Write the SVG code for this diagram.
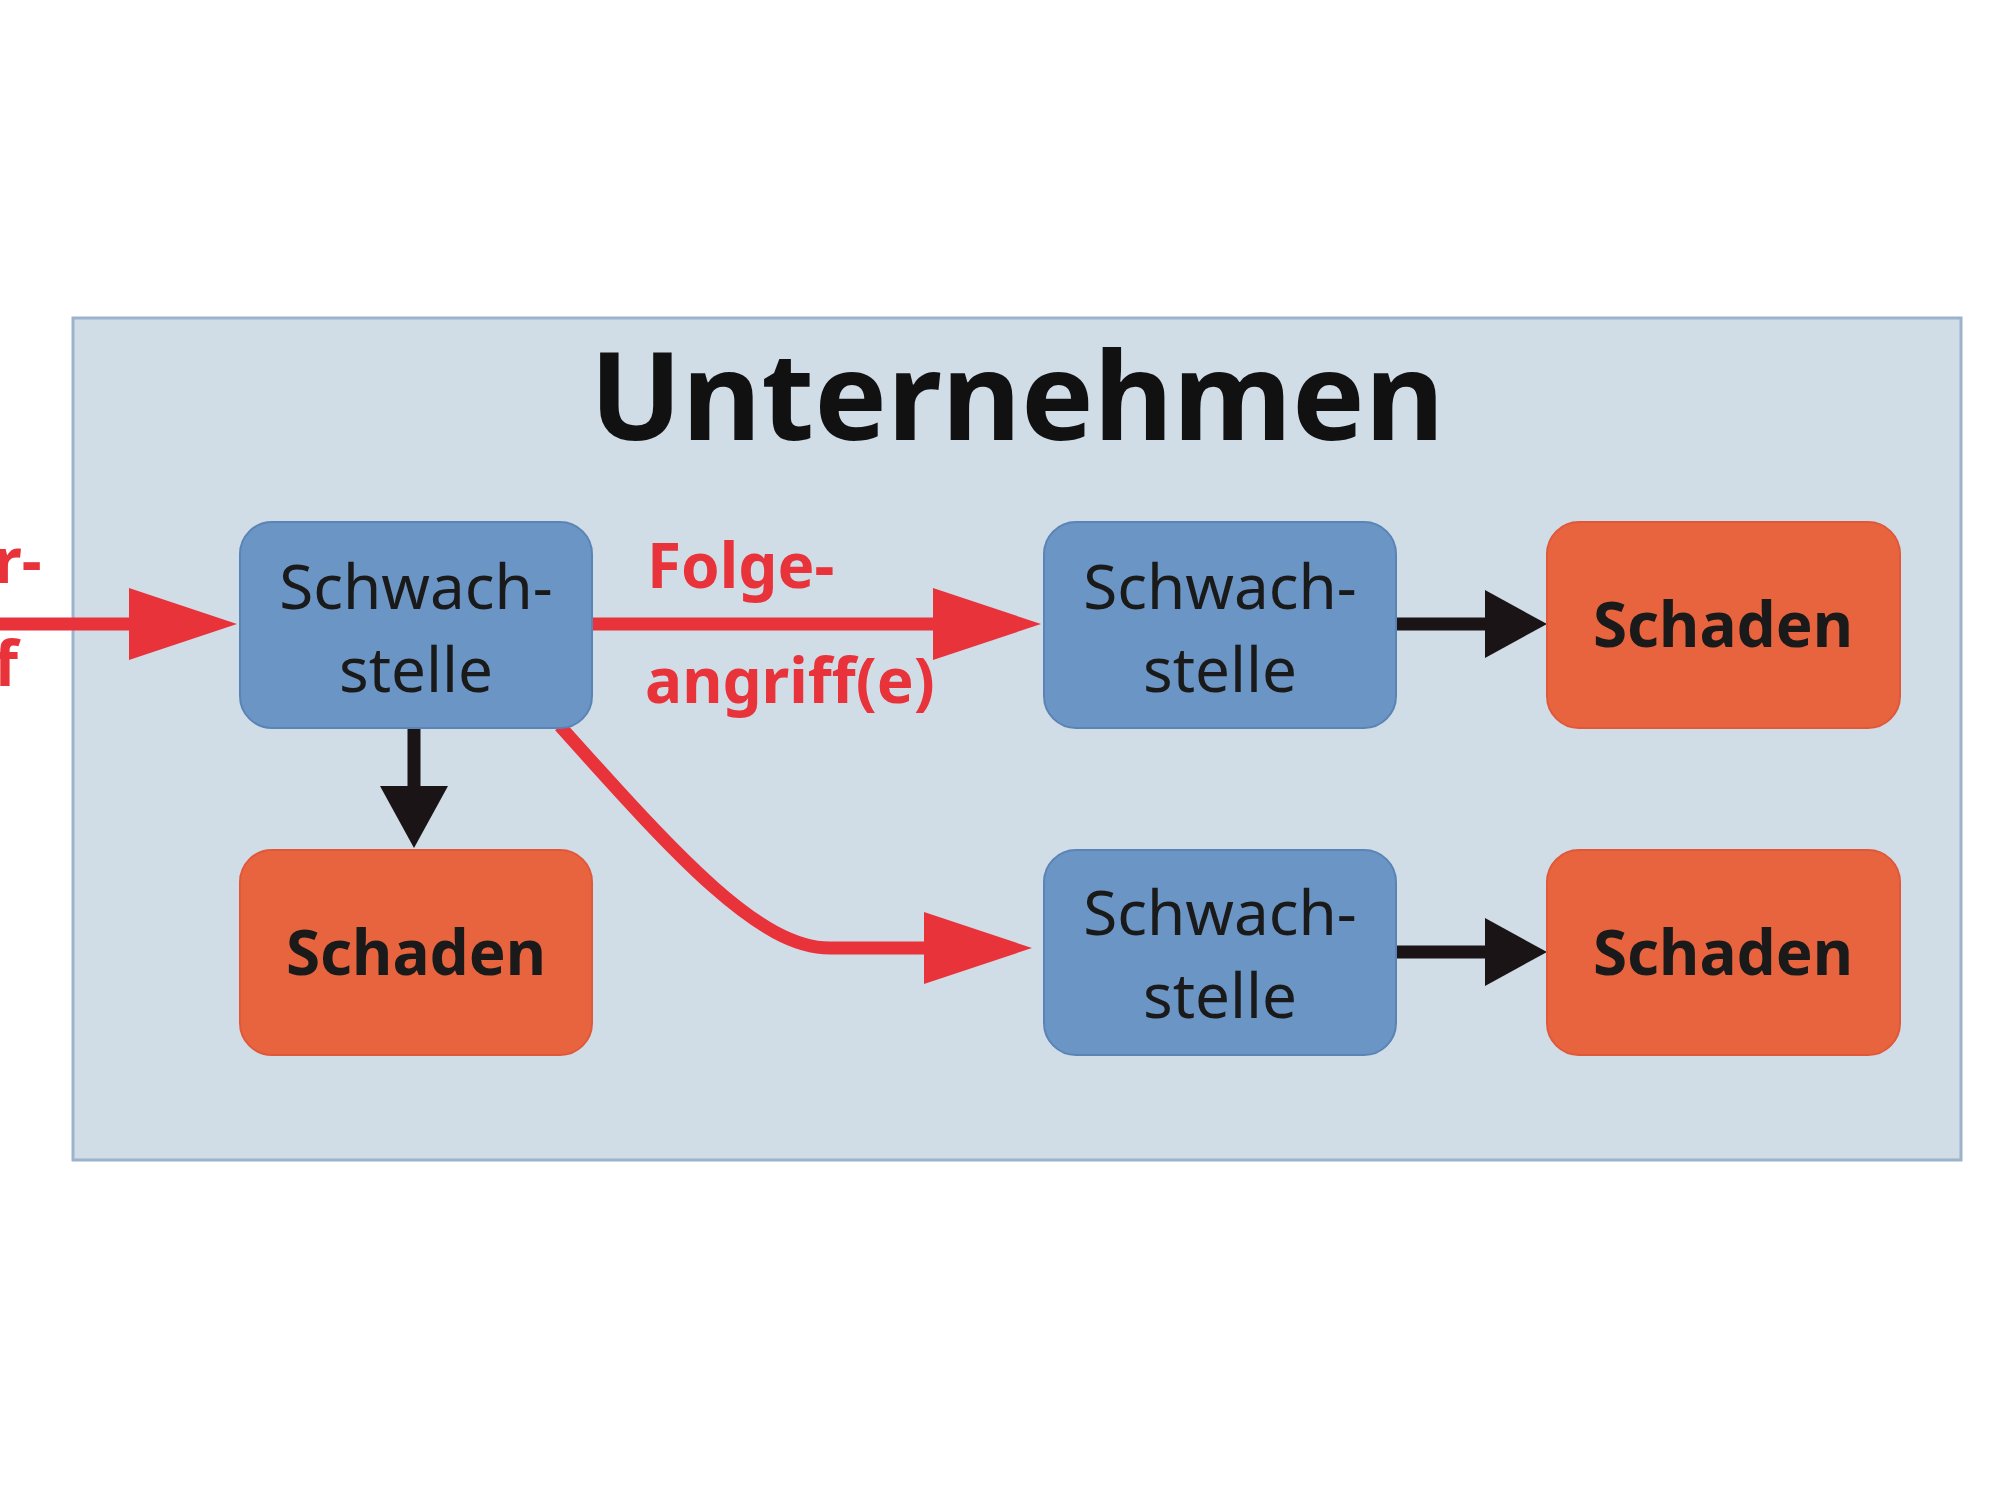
<svg xmlns="http://www.w3.org/2000/svg" width="2000" height="1500" viewBox="0 0 2000 1500">
<style>
.blue{fill:#6b95c4;stroke:#5b84b6;stroke-width:2}
.orange{fill:#e8643f;stroke:#e0583a;stroke-width:2}
.t{font-family:"Noto Sans","Liberation Sans",sans-serif;font-size:62px;fill:#1a1a1a;text-anchor:middle}
.b{font-weight:bold}
.r{font-family:"Noto Sans","Liberation Sans",sans-serif;font-size:62px;font-weight:bold;fill:#e8333a}
.red{stroke:#e8333a;stroke-width:13;fill:none}
.blk{stroke:#1a1416;stroke-width:13;fill:none}
</style>
<defs>
<marker id="ra" markerUnits="userSpaceOnUse" markerWidth="110" markerHeight="80" refX="0" refY="36" orient="auto" overflow="visible"><polygon points="0,0 108,36 0,72" fill="#e8333a"/></marker>
<marker id="ba" markerUnits="userSpaceOnUse" markerWidth="80" markerHeight="80" refX="0" refY="34" orient="auto" overflow="visible"><polygon points="0,0 62,34 0,68" fill="#1a1416"/></marker>
</defs>
<rect width="2000" height="1500" fill="#fff"/>
<g id="container"><rect x="73" y="318" width="1888" height="842" fill="#d0dce6" stroke="#9cb3cc" stroke-width="3"/>
<text x="1017" y="440" class="t b" style="font-size:122px;fill:#111">Unternehmen</text></g>
<g id="connectors">
<line x1="0" y1="624" x2="129" y2="624" class="red" marker-end="url(#ra)"/>
<line x1="592" y1="624" x2="933" y2="624" class="red" marker-end="url(#ra)"/>
<path d="M560,726 C680,860 760,948 830,948 L924,948" class="red" marker-end="url(#ra)"/>
<line x1="414" y1="728" x2="414" y2="786" class="blk" marker-end="url(#ba)"/>
<line x1="1396" y1="624" x2="1485" y2="624" class="blk" marker-end="url(#ba)"/>
<line x1="1396" y1="952" x2="1485" y2="952" class="blk" marker-end="url(#ba)"/>
<text x="-6" y="583" class="r">r-</text>
<text x="-6" y="686" class="r">f</text>
<text x="647" y="588" class="r">Folge-</text>
<text x="645" y="703" class="r">angriff(e)</text>
</g>
<g id="s1"><rect x="240" y="522" width="352" height="206" rx="32" class="blue"/><text x="416" y="609" class="t">Schwach-</text><text x="416" y="692" class="t">stelle</text></g>
<g id="d1"><rect x="240" y="850" width="352" height="205" rx="32" class="orange"/><text x="416" y="975" class="t b">Schaden</text></g>
<g id="s2"><rect x="1044" y="522" width="352" height="206" rx="32" class="blue"/><text x="1220" y="609" class="t">Schwach-</text><text x="1220" y="692" class="t">stelle</text></g>
<g id="s3"><rect x="1044" y="850" width="352" height="205" rx="32" class="blue"/><text x="1220" y="935" class="t">Schwach-</text><text x="1220" y="1018" class="t">stelle</text></g>
<g id="d2"><rect x="1547" y="522" width="353" height="206" rx="32" class="orange"/><text x="1723" y="647" class="t b">Schaden</text></g>
<g id="d3"><rect x="1547" y="850" width="353" height="205" rx="32" class="orange"/><text x="1723" y="975" class="t b">Schaden</text></g>
</svg>
